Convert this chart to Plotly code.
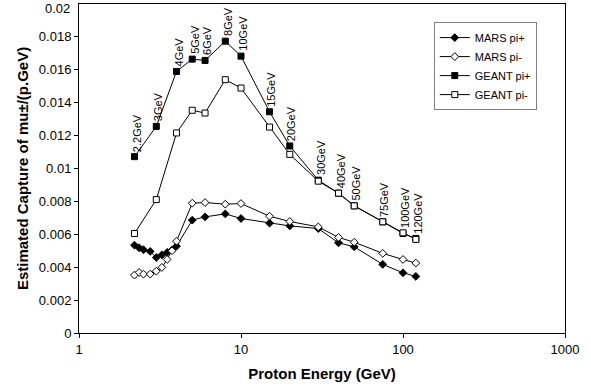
import math
import plotly.graph_objects as go

# MARS energies (GeV)
mars_e = [2.2, 2.35, 2.5, 2.75, 3.0, 3.25, 3.5, 3.75, 4.0, 5, 6, 8, 10, 15, 20, 30, 40, 50, 75, 100, 120]
mars_pip = [0.00534, 0.00518, 0.00506, 0.00496, 0.00459, 0.00475, 0.00490, 0.00504, 0.00528,
            0.00686, 0.00706, 0.00724, 0.00696, 0.00668, 0.00651, 0.00635, 0.00548, 0.00524,
            0.00417, 0.00366, 0.00344]
mars_pim = [0.00352, 0.00368, 0.00358, 0.00358, 0.00376, 0.00399, 0.00447, 0.00500, 0.00558,
            0.00789, 0.00793, 0.00783, 0.00787, 0.00710, 0.00678, 0.00645, 0.00581, 0.00552,
            0.00484, 0.00447, 0.00425]

# GEANT energies (GeV)
geant_e = [2.2, 3, 4, 5, 6, 8, 10, 15, 20, 30, 40, 50, 75, 100, 120]
geant_pip = [0.01072, 0.01256, 0.01590, 0.01665, 0.01657, 0.01774, 0.01683, 0.01345, 0.01137,
             0.00929, 0.00850, 0.00773, 0.00676, 0.00605, 0.00575]
geant_pim = [0.00605, 0.00811, 0.01216, 0.01354, 0.01337, 0.01540, 0.01489, 0.01252, 0.01086,
             0.00923, 0.00850, 0.00773, 0.00676, 0.00609, 0.00569]
point_labels = ["2.2GeV", "3GeV", "4GeV", "5GeV", "6GeV", "8GeV", "10GeV", "15GeV", "20GeV",
                "30GeV", "40GeV", "50GeV", "75GeV", "100GeV", "120GeV"]

y_ticks = [0, 0.002, 0.004, 0.006, 0.008, 0.01, 0.012, 0.014, 0.016, 0.018]
y_ticktext = ["0", "0.002", "0.004", "0.006", "0.008", "0.01", "0.012", "0.014", "0.016", "0.018"]
y_top = 0.02
y_top_text = "0.02"
x_ticks = [1, 10, 100, 1000]
x_ticktext = ["1", "10", "100", "1000"]

FONT = "Liberation Sans, Arial, sans-serif"

fig = go.Figure()
line = dict(color="black", width=1)
fig.add_trace(go.Scatter(x=mars_e, y=mars_pip, name="MARS pi+", mode="lines+markers", line=line,
                         marker=dict(symbol="diamond", size=6, color="black", line=dict(color="black", width=1))))
fig.add_trace(go.Scatter(x=mars_e, y=mars_pim, name="MARS pi-", mode="lines+markers", line=line,
                         marker=dict(symbol="diamond", size=6, color="white", line=dict(color="black", width=1))))
fig.add_trace(go.Scatter(x=geant_e, y=geant_pip, name="GEANT pi+", mode="lines+markers", line=line,
                         marker=dict(symbol="square", size=6, color="black", line=dict(color="black", width=1))))
fig.add_trace(go.Scatter(x=geant_e, y=geant_pim, name="GEANT pi-", mode="lines+markers", line=line,
                         marker=dict(symbol="square", size=6, color="white", line=dict(color="black", width=1))))

annotations = []
for e, v, t in zip(geant_e, geant_pip, point_labels):
    annotations.append(dict(x=math.log10(e), y=v, xref="x", yref="y", text=t, showarrow=False,
                            textangle=-90, xanchor="center", yanchor="bottom", yshift=3, xshift=2,
                            font=dict(family=FONT, size=11, color="black")))
# top y tick label, nudged down just enough to stay inside the page
annotations.append(dict(x=0, y=y_top, xref="paper", yref="y", text=y_top_text, showarrow=False,
                        xanchor="right", yanchor="middle", xshift=-7, yshift=-4,
                        font=dict(family=FONT, size=13, color="black")))

fig.update_layout(
    width=591, height=389,
    margin=dict(l=79, r=26, t=4, b=56),
    paper_bgcolor="white", plot_bgcolor="white",
    font=dict(family=FONT, size=13, color="black"),
    showlegend=True,
    legend=dict(x=0.73, y=0.945, xanchor="left", yanchor="top", bgcolor="white",
                bordercolor="#808080", borderwidth=1, font=dict(family=FONT, size=11),
                tracegroupgap=0, itemwidth=30),
    annotations=annotations,
    xaxis=dict(type="log", range=[0, 3], tickvals=x_ticks, ticktext=x_ticktext,
               showgrid=False, zeroline=False, showline=True, linecolor="black", linewidth=1,
               mirror=True, ticks="outside", ticklen=4, tickcolor="black",
               title=dict(text="<b>Proton Energy (GeV)</b>", font=dict(family=FONT, size=15), standoff=12),
               tickfont=dict(family=FONT, size=13)),
    yaxis=dict(range=[0, 0.02], tickvals=y_ticks, ticktext=y_ticktext,
               showgrid=False, zeroline=False, showline=True, linecolor="black", linewidth=1,
               mirror=True, ticks="outside", ticklen=4, tickcolor="black",
               title=dict(text="<b>Estimated Capture of mu±/(p.GeV)</b>", font=dict(family=FONT, size=15), standoff=6),
               tickfont=dict(family=FONT, size=13)),
)

fig.write_html("out.html")
